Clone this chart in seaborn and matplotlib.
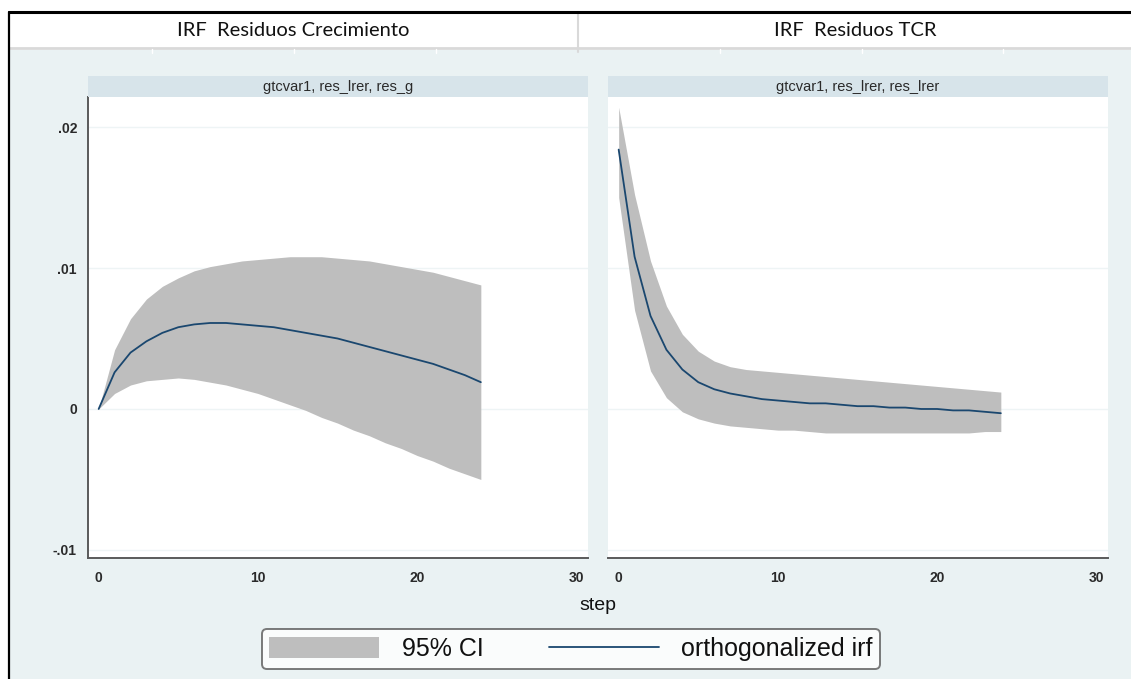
import numpy as np
import pandas as pd
import matplotlib
matplotlib.use("Agg")
import matplotlib.pyplot as plt
from matplotlib.lines import Line2D
from matplotlib.patches import Rectangle, Patch
import seaborn as sns

# --- datos ---
steps = list(range(25))

irf_g = [0, .0026, .0040, .0048, .0054, .0058, .0060, .0061, .0061, .0060,
         .0059, .0058, .0056, .0054, .0052, .0050, .0047, .0044, .0041, .0038,
         .0035, .0032, .0028, .0024, .0019]
hi_g = [0, .0042, .0064, .0078, .0087, .0093, .0098, .0101, .0103, .0105,
        .0106, .0107, .0108, .0108, .0108, .0107, .0106, .0105, .0103, .0101,
        .0099, .0097, .0094, .0091, .0088]
lo_g = [0, .0011, .0017, .0020, .0021, .0022, .0021, .0019, .0017, .0014,
        .0011, .0007, .0003, -.0001, -.0006, -.0010, -.0015, -.0019, -.0024, -.0028,
        -.0033, -.0037, -.0042, -.0046, -.0050]

irf_l = [.0184, .0108, .0066, .0042, .0028, .0019, .0014, .0011, .0009, .0007,
         .0006, .0005, .0004, .0004, .0003, .0002, .0002, .0001, .0001, .0000,
         .0000, -.0001, -.0001, -.0002, -.0003]
hi_l = [.0214, .0152, .0105, .0073, .0053, .0041, .0034, .0030, .0028, .0027,
        .0026, .0025, .0024, .0023, .0022, .0021, .0020, .0019, .0018, .0017,
        .0016, .0015, .0014, .0013, .0012]
lo_l = [.0150, .0070, .0027, .0008, -.0002, -.0007, -.0010, -.0012, -.0013, -.0014,
        -.0015, -.0015, -.0016, -.0017, -.0017, -.0017, -.0017, -.0017, -.0017, -.0017,
        -.0017, -.0017, -.0017, -.0016, -.0016]

header_titles = ["IRF  Residuos Crecimiento", "IRF  Residuos TCR"]
panel_titles = ["gtcvar1, res_lrer, res_g", "gtcvar1, res_lrer, res_lrer"]
y_ticks = [-0.01, 0, 0.01, 0.02]
y_labels = ["-.01", "0", ".01", ".02"]
x_ticks = [0, 10, 20, 30]

df = pd.DataFrame({
    "step": steps * 2,
    "irf": irf_g + irf_l,
    "lo": lo_g + lo_l,
    "hi": hi_g + hi_l,
    "panel": [panel_titles[0]] * 25 + [panel_titles[1]] * 25,
})

# colores estilo Stata s2color
bg = "#EAF2F3"
strip_col = "#D7E4EA"
navy = "#1A476F"
ci_col = "#BEBEBE"
axis_col = "#5A5A5A"
txt_col = "#2A2A2A"

sns.set_theme(style="white")
plt.rcParams['font.family'] = ['Liberation Sans', 'DejaVu Sans']

W, H = 1131, 679
fig = plt.figure(figsize=(W / 100, H / 100), dpi=100)
fig.patch.set_facecolor("white")


def box(x, y, w, h):
    return [x / W, 1 - (y + h) / H, w / W, h / H]


def fx(x):
    return x / W


def fy(y):
    return 1 - y / H


# fondo del grafico y cabecera tipo tabla
fig.add_artist(Rectangle((fx(10), 0), 1, fy(50), transform=fig.transFigure,
                         facecolor=bg, edgecolor="none", zorder=0))
fig.add_artist(Line2D([fx(10), 1], [fy(48), fy(48)], color="#D9D9D9", lw=2,
                      transform=fig.transFigure))
fig.add_artist(Line2D([fx(578), fx(578)], [fy(12), fy(52)], color="#D9D9D9", lw=1.5,
                      transform=fig.transFigure))
for gx in [152, 294, 436, 720, 862, 1003]:
    fig.add_artist(Line2D([fx(gx), fx(gx)], [fy(49), fy(53)], color="#FFFFFF", lw=1,
                          transform=fig.transFigure))
fig.add_artist(Line2D([fx(9), 1], [fy(12), fy(12)], color="black", lw=2.2,
                      transform=fig.transFigure))
fig.add_artist(Line2D([fx(9), fx(9)], [fy(12), 0], color="black", lw=1.6,
                      transform=fig.transFigure))

fig.text(fx(293), fy(30), header_titles[0], ha="center", va="center",
         fontsize=14.5, color="#111111", family=["Lato", "DejaVu Sans"])
fig.text(fx(855), fy(30), header_titles[1], ha="center", va="center",
         fontsize=14.5, color="#111111", family=["Lato", "DejaVu Sans"])

lefts = [88, 608]
for i, (title, left) in enumerate(zip(panel_titles, lefts)):
    sub = df[df["panel"] == title]
    ax = fig.add_axes(box(left, 97, 500, 461))
    ax.set_facecolor("white")
    for yt in y_ticks:
        ax.axhline(yt, color="#EEF4F5", lw=1, zorder=0)
    ax.fill_between(sub["step"], sub["lo"], sub["hi"], color=ci_col, lw=0, zorder=1)
    sns.lineplot(data=sub, x="step", y="irf", ax=ax, color=navy, lw=1.3, zorder=2)
    ax.set_xlim(-0.67, 30.73)
    ax.set_ylim(-0.01057, 0.02213)
    ax.set_xticks(x_ticks)
    ax.set_xticklabels([str(t) for t in x_ticks], fontsize=10, color=txt_col,
                       fontweight="bold")
    ax.set_xlabel("")
    ax.set_ylabel("")
    for s in ["top", "right"]:
        ax.spines[s].set_visible(False)
    ax.spines["bottom"].set_color(axis_col)
    ax.spines["bottom"].set_linewidth(1.4)
    ax.tick_params(axis="x", direction="out", length=5, width=1.2, color=axis_col, pad=4)
    if i == 0:
        ax.spines["left"].set_color(axis_col)
        ax.spines["left"].set_linewidth(1.4)
        ax.set_yticks(y_ticks)
        ax.set_yticklabels(y_labels, fontsize=10, color=txt_col, fontweight="bold")
        ax.tick_params(axis="y", direction="out", length=5, width=1.2, color=axis_col, pad=3)
    else:
        ax.spines["left"].set_visible(False)
        ax.set_yticks(y_ticks)
        ax.set_yticklabels([])
        ax.tick_params(axis="y", length=0)

    sax = fig.add_axes(box(left, 76, 500, 21))
    sax.set_facecolor(strip_col)
    sax.set_xticks([])
    sax.set_yticks([])
    for s in sax.spines.values():
        s.set_visible(False)
    sax.text(0.5, 0.5, title, ha="center", va="center", fontsize=10.5,
             color=txt_col, transform=sax.transAxes)

fig.text(fx(598), fy(605), "step", ha="center", va="center", fontsize=14, color="#111111")

handles = [Patch(facecolor=ci_col, edgecolor="none"),
           Line2D([0], [0], color=navy, lw=1.3)]
leg = fig.legend(handles, ["95% CI", "orthogonalized irf"], loc="center",
                 bbox_to_anchor=(fx(571), fy(649)), ncol=2, frameon=True,
                 fontsize=18, handlelength=4.4, handleheight=0.95, columnspacing=2.6,
                 handletextpad=0.9, borderpad=0.3, fancybox=True)
leg.get_frame().set_edgecolor(axis_col)
leg.get_frame().set_linewidth(1.4)
leg.get_frame().set_facecolor("white")
for t in leg.get_texts():
    t.set_color("#111111")

fig.savefig("out.png", dpi=100)
